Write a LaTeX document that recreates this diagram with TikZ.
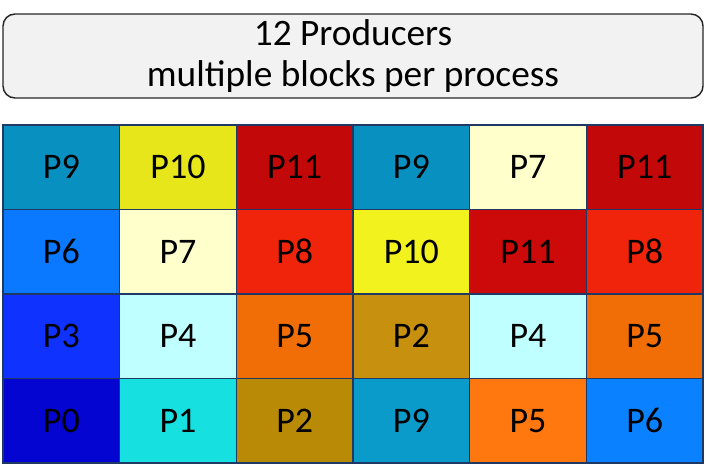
\documentclass[tikz,border=0pt]{standalone}
\usepackage{fontspec}
\setmainfont{Carlito}
\usetikzlibrary{positioning}
\definecolor{cZero}{HTML}{0505D2}
\definecolor{cOne}{HTML}{16E0E0}
\definecolor{cTwo}{HTML}{B88A05}
\definecolor{cTwoB}{HTML}{C8900F}
\definecolor{cThree}{HTML}{0F32FF}
\definecolor{cFour}{HTML}{BFFFFF}
\definecolor{cFive}{HTML}{F06E05}
\definecolor{cFiveB}{HTML}{FF780F}
\definecolor{cSix}{HTML}{0A78FF}
\definecolor{cSixB}{HTML}{0A82FF}
\definecolor{cSeven}{HTML}{FFFFCC}
\definecolor{cEight}{HTML}{F0240A}
\definecolor{cNine}{HTML}{0790C0}
\definecolor{cNineB}{HTML}{0A9BCB}
\definecolor{cTen}{HTML}{E6E61A}
\definecolor{cTenB}{HTML}{F2F21E}
\definecolor{cEleven}{HTML}{C20808}
\definecolor{cElevenB}{HTML}{CC0A0A}
\definecolor{gridline}{HTML}{1F3864}
\tikzset{
    titlebox/.style={draw=black!85, fill=black!5, line width=1.1pt, rounded corners=9pt,
        minimum width=525pt, minimum height=63pt, inner sep=0pt, align=center,
        font=\fontsize{28}{30.5}\selectfont},
    cell/.style={draw=gridline, line width=1pt, minimum width=87.5pt, minimum height=63.4pt,
        inner sep=0pt, font=\fontsize{27}{30}\selectfont},
}
\begin{document}
\begin{tikzpicture}[x=0.75pt, y=-0.75pt]
    \useasboundingbox (0,0) rectangle (706,471);
    \node[titlebox] (title) at (353,56) {12 Producers\\multiple blocks per process};
    \foreach \r/\cells in {
        0/{P9/cNine,P10/cTen,P11/cEleven,P9/cNine,P7/cSeven,P11/cEleven},
        1/{P6/cSix,P7/cSeven,P8/cEight,P10/cTenB,P11/cElevenB,P8/cEight},
        2/{P3/cThree,P4/cFour,P5/cFive,P2/cTwoB,P4/cFour,P5/cFive},
        3/{P0/cZero,P1/cOne,P2/cTwo,P9/cNineB,P5/cFiveB,P6/cSixB}}
        \foreach \lbl/\col [count=\c from 0] in \cells
            \node[cell, fill=\col] (c\r\c) at (61.33+116.67*\c, 167.25+84.5*\r) {\lbl};
\end{tikzpicture}
\end{document}
